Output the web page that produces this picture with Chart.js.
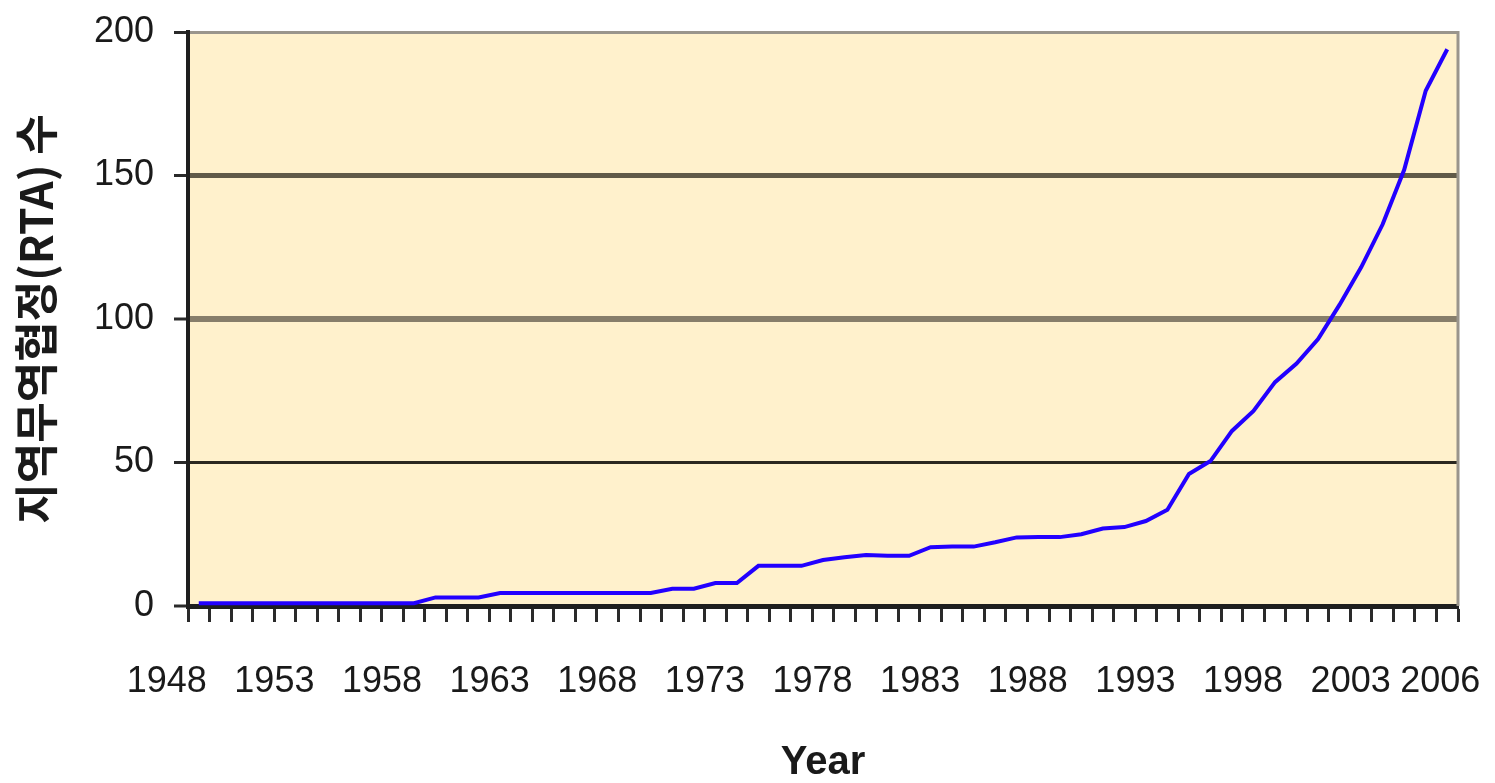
<!DOCTYPE html>
<html>
<head>
<meta charset="utf-8">
<script src="https://cdn.jsdelivr.net/npm/chart.js@4.4.0/dist/chart.umd.min.js"></script>
<style>
  html, body { margin: 0; padding: 0; background: #fff; }
  #wrap { width: 1495px; height: 783px; }
</style>
</head>
<body>
<div id="wrap"><canvas id="rta"></canvas></div>
<script>
// categories: one per year
const years = [
  "1948","1949","1950","1951","1952","1953","1954","1955","1956","1957",
  "1958","1959","1960","1961","1962","1963","1964","1965","1966","1967",
  "1968","1969","1970","1971","1972","1973","1974","1975","1976","1977",
  "1978","1979","1980","1981","1982","1983","1984","1985","1986","1987",
  "1988","1989","1990","1991","1992","1993","1994","1995","1996","1997",
  "1998","1999","2000","2001","2002","2003","2004","2005","2006"
];

// number of RTAs in force
const rtaCount = [
  1, 1, 1, 1, 1, 1, 1, 1, 1, 1,
  1, 3, 3, 3, 4.5, 4.5, 4.5, 4.5, 4.5, 4.5,
  4.5, 4.5, 6, 6, 8, 8, 14, 14, 14, 16,
  17, 17.8, 17.5, 17.5, 20.5, 20.7, 20.7, 22.2, 23.9, 24,
  24, 25, 27, 27.5, 29.6, 33.5, 46, 50.5, 61, 68,
  78, 84.5, 93, 105, 118, 133, 152, 179.5, 194
];

// years that get a label on the x axis
const yearLabels = ["1948","1953","1958","1963","1968","1973","1978","1983","1988","1993","1998","2003","2006"];
const yTicks = [0, 50, 100, 150, 200];

const tickFont = { family: "'Liberation Sans', Arial, sans-serif", size: 36 };

// cream plot background + grey right edge
const plotBg = {
  id: "plotBg",
  beforeDraw(chart) {
    const a = chart.chartArea;
    const ctx = chart.ctx;
    ctx.save();
    ctx.fillStyle = "#fff1cc";
    ctx.fillRect(a.left, a.top, a.right - a.left, a.bottom - a.top);
    ctx.restore();
  },
  afterDatasetsDraw(chart) {
    const a = chart.chartArea;
    const ctx = chart.ctx;
    ctx.save();
    ctx.strokeStyle = "#9a958c";
    ctx.lineWidth = 3;
    ctx.beginPath();
    ctx.moveTo(a.right, a.top - 1);
    ctx.lineTo(a.right, a.bottom);
    ctx.stroke();
    ctx.restore();
  }
};

function gridColor(v) {
  if (v === 200) return "#9a958c";
  if (v === 150) return "#615a48";
  if (v === 100) return "#877e6a";
  if (v === 50) return "#2b2820";
  return "rgba(0,0,0,0)";
}
function gridWidth(v) {
  if (v === 200) return 3;
  if (v === 150) return 5;
  if (v === 100) return 6;
  if (v === 50) return 3;
  return 0;
}

new Chart(document.getElementById("rta"), {
  type: "line",
  data: {
    labels: years,
    datasets: [{
      data: rtaCount,
      borderColor: "#2200ff",
      borderWidth: 4,
      pointRadius: 0,
      tension: 0,
      fill: false
    }]
  },
  options: {
    responsive: true,
    maintainAspectRatio: false,
    animation: false,
    layout: { padding: { top: 32, right: 37, bottom: 0, left: 0 } },
    plugins: { legend: { display: false }, tooltip: { enabled: false } },
    scales: {
      x: {
        offset: true,
        grid: {
          offset: true,
          drawOnChartArea: false,
          tickLength: 16,
          tickColor: "#2a2a2a",
          tickWidth: 3
        },
        border: { color: "#1e1e1e", width: 5 },
        ticks: {
          autoSkip: false,
          maxRotation: 0,
          minRotation: 0,
          padding: 38,
          labelOffset: -32,
          color: "#1a1a1a",
          font: tickFont,
          callback: function (value, index) {
            const y = years[index];
            if (!yearLabels.includes(y)) return "";
            // last label sits a bit further right, like the original
            return index === years.length - 1 ? "     " + y : y;
          }
        },
        title: {
          display: true,
          text: "Year",
          color: "#1a1a1a",
          font: { family: "'Liberation Sans', Arial, sans-serif", size: 40, weight: "bold", lineHeight: "40px" },
          padding: { top: 0, bottom: 0 }
        },
        afterFit: function (scale) {
          scale.height = 177;
          scale.paddingLeft = 0;
          scale.paddingRight = 0;
        }
      },
      y: {
        min: 0,
        max: 200,
        afterBuildTicks: function (scale) {
          scale.ticks = yTicks.map(v => ({ value: v }));
        },
        grid: {
          color: ctx => gridColor(ctx.tick.value),
          lineWidth: ctx => gridWidth(ctx.tick.value),
          tickLength: 14,
          tickColor: "#2a2a2a",
          tickWidth: 3
        },
        border: { color: "#1e1e1e", width: 4 },
        ticks: {
          padding: 20,
          color: "#1a1a1a",
          font: tickFont
        },
        title: {
          display: true,
          text: "지역무역협정(RTA) 수",
          color: "#1a1a1a",
          font: { family: "'Noto Sans CJK KR', 'Noto Sans', sans-serif", size: 44, weight: "bold", lineHeight: "40px" },
          padding: { top: 16, bottom: 0 }
        },
        afterFit: function (scale) {
          scale.width = 188;
          scale.paddingTop = 0;
          scale.paddingBottom = 0;
        }
      }
    }
  },
  plugins: [plotBg]
});
</script>
</body>
</html>
